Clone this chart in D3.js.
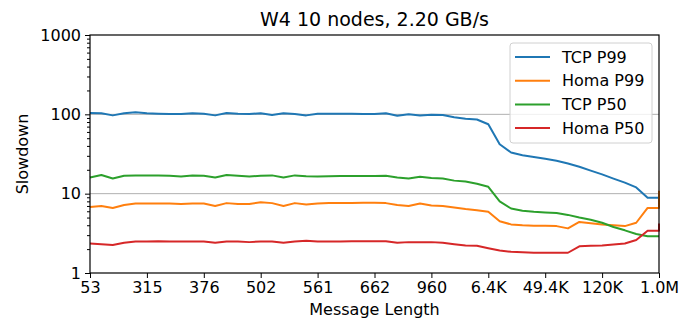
<!DOCTYPE html>
<html>
<head>
<meta charset="utf-8">
<title>W4 slowdown</title>
<script src="https://cdn.jsdelivr.net/npm/d3@7"></script>
<style>
  body { margin: 0; background: #fff; }
  text { font-family: "DejaVu Sans", sans-serif; fill: #000; }
</style>
</head>
<body>
<script>
  // x tick labels (message length percentiles), 5 samples per tick interval
  var tickLabels = ["53", "315", "376", "502", "561", "662", "960", "6.4K", "49.4K", "120K", "1.0M"];
  var samplesPerTick = 5;

  var seriesNames = ["TCP P99", "Homa P99", "TCP P50", "Homa P50"];
  var seriesColors = ["#1f77b4", "#ff7f0e", "#2ca02c", "#d62728"];

  var tcpP99 = [104, 103, 97, 103, 106, 103, 102, 101, 101, 103,
                102, 97, 104, 102, 101, 103, 98, 103, 101, 97,
                102, 102, 102, 102, 101, 101, 103, 96, 100, 97,
                99, 98, 92, 88, 86, 75, 42, 33, 30.5, 29,
                27.5, 26, 24, 21.8, 19.5, 17.5, 15.5, 13.8, 12, 8.9,
                8.9];
  var homaP99 = [6.8, 7.0, 6.6, 7.2, 7.5, 7.5, 7.5, 7.5, 7.4, 7.5,
                 7.5, 7.0, 7.6, 7.4, 7.4, 7.8, 7.6, 7.0, 7.6, 7.3,
                 7.5, 7.6, 7.6, 7.6, 7.7, 7.7, 7.6, 7.2, 7.0, 7.5,
                 7.1, 7.0, 6.7, 6.4, 6.2, 5.9, 4.5, 4.1, 4.0, 3.95,
                 3.95, 3.9, 3.65, 4.4, 4.25, 4.1, 4.0, 3.9, 4.3, 6.6,
                 6.6];
  var tcpP50 = [16.0, 17.2, 15.5, 16.8, 17.0, 17.0, 17.0, 16.8, 16.5, 17.0,
                16.8, 16.0, 17.2, 16.8, 16.5, 16.8, 17.0, 16.0, 17.0, 16.6,
                16.5, 16.6, 16.7, 16.7, 16.7, 16.7, 16.8, 16.0, 15.5, 16.3,
                15.8, 15.5, 14.6, 14.2, 13.3, 12.2, 8.0, 6.5, 6.1, 5.9,
                5.8, 5.7, 5.4, 5.0, 4.7, 4.3, 3.8, 3.45, 3.1, 2.9,
                2.9];
  var homaP50 = [2.35, 2.3, 2.25, 2.4, 2.5, 2.5, 2.52, 2.5, 2.5, 2.5,
                 2.5, 2.4, 2.5, 2.5, 2.45, 2.5, 2.5, 2.4, 2.5, 2.55,
                 2.5, 2.5, 2.5, 2.52, 2.52, 2.52, 2.52, 2.4, 2.45, 2.45,
                 2.45, 2.4, 2.3, 2.22, 2.2, 2.05, 1.92, 1.85, 1.82, 1.8,
                 1.8, 1.8, 1.8, 2.17, 2.2, 2.22, 2.28, 2.35, 2.6, 3.4,
                 3.4];
  // last sample jumps straight up at the right edge
  var endValues = [null, 10.9, null, 4.2];

  var allSeries = [tcpP99, homaP99, tcpP50, homaP50];

  var width = 681, height = 322;
  var margins = { top: 35, right: 22, bottom: 49, left: 90 };
  var plotW = width - margins.left - margins.right;
  var plotH = height - margins.top - margins.bottom;

  var svg = d3.select("body").append("svg")
      .attr("width", width)
      .attr("height", height);

  var chart = svg.append("g")
      .attr("transform", "translate(" + margins.left + "," + margins.top + ")");

  var nSamples = tcpP99.length;
  var xScale = d3.scaleLinear()
      .domain([0, nSamples - 1])
      .range([0, plotW]);

  var yScale = d3.scaleLog()
      .domain([1, 1000])
      .range([plotH, 0]);

  // grid lines at the major decades
  chart.selectAll(".grid")
      .data([10, 100])
      .enter().append("line")
      .attr("class", "grid")
      .attr("x1", 0).attr("x2", plotW)
      .attr("y1", function(d){ return yScale(d); })
      .attr("y2", function(d){ return yScale(d); })
      .style("stroke", "#b0b0b0")
      .style("stroke-width", 1);

  // the series
  var line = d3.line()
      .x(function(d){ return xScale(d[0]); })
      .y(function(d){ return yScale(d[1]); });

  allSeries.forEach(function(vals, s){
    var pts = vals.map(function(v, i){ return [i, v]; });
    if (endValues[s] != null) pts.push([nSamples - 1, endValues[s]]);
    chart.append("path")
        .datum(pts)
        .attr("d", line)
        .style("fill", "none")
        .style("stroke", seriesColors[s])
        .style("stroke-width", 2)
        .style("stroke-linejoin", "round");
  });

  // axes
  var yAxis = d3.axisLeft(yScale)
      .tickValues([1, 10, 100, 1000])
      .tickFormat(d3.format("d"))
      .tickSize(5)
      .tickPadding(4);

  var minorVals = [];
  [1, 10, 100].forEach(function(dec){
    for (var m = 2; m <= 9; m++) minorVals.push(dec * m);
  });
  var yMinor = d3.axisLeft(yScale)
      .tickValues(minorVals)
      .tickFormat("")
      .tickSize(3);

  var xAxis = d3.axisBottom(xScale)
      .tickValues(tickLabels.map(function(d, i){ return i * samplesPerTick; }))
      .tickFormat(function(d, i){ return tickLabels[i]; })
      .tickSize(5)
      .tickPadding(4);

  chart.append("g").call(yMinor)
      .call(function(g){ g.select(".domain").remove(); });

  var gy = chart.append("g").call(yAxis);
  var gx = chart.append("g")
      .attr("transform", "translate(0," + plotH + ")")
      .call(xAxis);

  [gy, gx].forEach(function(g){
    g.selectAll("text").style("font-size", "16px").style("font-family", "DejaVu Sans");
    g.select(".domain").remove();
  });
  chart.selectAll(".tick line").style("stroke", "#000").style("stroke-width", 1);

  // frame
  chart.append("rect")
      .attr("x", 0).attr("y", 0)
      .attr("width", plotW).attr("height", plotH)
      .style("fill", "none")
      .style("stroke", "#000")
      .style("stroke-width", 1.2);

  // title and axis labels
  svg.append("text")
      .attr("x", margins.left + plotW / 2)
      .attr("y", 26)
      .style("text-anchor", "middle")
      .style("font-size", "19px")
      .text("W4 10 nodes, 2.20 GB/s");

  svg.append("text")
      .attr("x", margins.left + plotW / 2)
      .attr("y", 315)
      .style("text-anchor", "middle")
      .style("font-size", "16px")
      .text("Message Length");

  svg.append("text")
      .attr("transform", "translate(28," + (margins.top + plotH / 2) + ") rotate(-90)")
      .style("text-anchor", "middle")
      .style("font-size", "16px")
      .text("Slowdown");

  // legend
  var legend = svg.append("g").attr("transform", "translate(510,43)");
  legend.append("rect")
      .attr("width", 142).attr("height", 100)
      .attr("rx", 3)
      .style("fill", "#fff")
      .style("fill-opacity", 0.8)
      .style("stroke", "#d0d0d0");

  var rows = legend.selectAll(".row")
      .data(seriesNames)
      .enter().append("g")
      .attr("class", "row")
      .attr("transform", function(d, i){ return "translate(0," + (14 + i * 23.7) + ")"; });

  rows.append("line")
      .attr("x1", 5).attr("x2", 40)
      .style("stroke", function(d, i){ return seriesColors[i]; })
      .style("stroke-width", 2);

  rows.append("text")
      .attr("x", 52)
      .attr("dy", "0.35em")
      .style("font-size", "16px")
      .text(function(d){ return d; });
</script>
</body>
</html>
